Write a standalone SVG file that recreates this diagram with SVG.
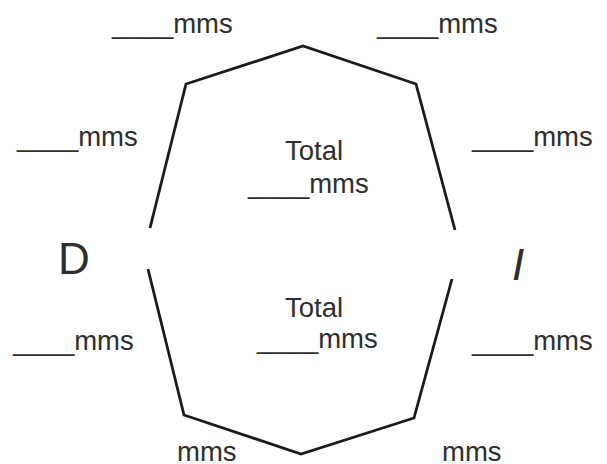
<svg xmlns="http://www.w3.org/2000/svg" width="607" height="464" viewBox="0 0 607 464">
<style>
.lbl{font-family:"Liberation Sans",Arial,sans-serif;font-size:27.5px;fill:#2e2e2e;}
.big{font-family:"Liberation Sans",Arial,sans-serif;font-size:44px;fill:#2e2e2e;}
.edge{fill:none;stroke:#1a1a1a;stroke-width:2.8;stroke-linejoin:miter;stroke-linecap:butt;}
</style>
<rect width="607" height="464" fill="#ffffff"/>
<g id="outline">
<polyline class="edge" points="150,228 186,84 303,46 416,84 455,230"/>
<polyline class="edge" points="148,269 184,415 301,454 414,418 452,279"/>
</g>
<g id="label-top-left"><text class="lbl" x="112" y="33">____mms</text></g>
<g id="label-top-right"><text class="lbl" x="377" y="33">____mms</text></g>
<g id="label-mid-left"><text class="lbl" x="17" y="146">____mms</text></g>
<g id="label-mid-right"><text class="lbl" x="472" y="146">____mms</text></g>
<g id="total-top"><text class="lbl" x="285" y="160">Total</text><text class="lbl" x="248" y="193">____mms</text></g>
<g id="total-bottom"><text class="lbl" x="285" y="317">Total</text><text class="lbl" x="257" y="348">____mms</text></g>
<g id="label-low-left"><text class="lbl" x="13" y="350">____mms</text></g>
<g id="label-low-right"><text class="lbl" x="472" y="350">____mms</text></g>
<g id="label-bottom-left"><text class="lbl" x="177" y="461">mms</text></g>
<g id="label-bottom-right"><text class="lbl" x="442" y="461">mms</text></g>
<g id="D"><text class="big" x="58" y="274">D</text></g>
<g id="I"><text class="big" x="512" y="280" font-style="italic">I</text></g>
</svg>
